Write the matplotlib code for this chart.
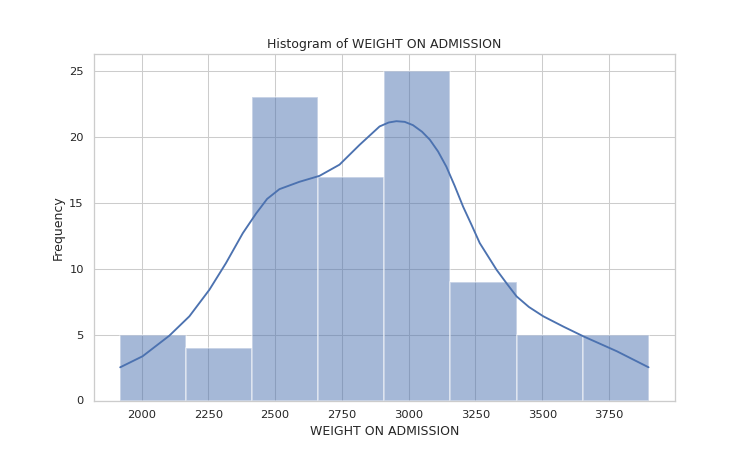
import numpy as np
import matplotlib
matplotlib.use('Agg')
import matplotlib.pyplot as plt
import seaborn as sns
sns.set_theme(style='whitegrid')
plt.rcParams['font.family'] = ['DejaVu Sans']

# histogram bins (edges) and counts
bin_edges = [1920, 2167, 2415, 2662, 2909, 3156, 3404, 3651, 3898]
counts = [5, 4, 23, 17, 25, 9, 5, 5]

# kde curve
kde_x = [1920, 2004, 2104, 2179, 2254, 2316, 2379, 2429, 2470, 2516, 2591,
         2666, 2741, 2816, 2891, 2925, 2954, 2985, 3016, 3050, 3079, 3110,
         3141, 3172, 3204, 3236, 3266, 3329, 3370, 3404, 3450, 3504, 3580,
         3654, 3779, 3898]
kde_y = [2.52, 3.36, 4.92, 6.39, 8.41, 10.43, 12.7, 14.2, 15.3, 16.04, 16.6,
         17.05, 17.9, 19.4, 20.8, 21.1, 21.2, 21.15, 20.9, 20.4, 19.8, 18.9,
         17.75, 16.3, 14.7, 13.3, 11.95, 9.92, 8.8, 7.9, 7.1, 6.39, 5.6,
         4.87, 3.74, 2.52]

blue = '#4c72b0'

fig = plt.figure(figsize=(10, 6), dpi=75)
ax = fig.add_subplot(111)
left = np.array(bin_edges[:-1])
widths = np.diff(bin_edges)
ax.bar(left, counts, width=widths, align='edge', color=blue, alpha=0.5,
       edgecolor='white', linewidth=1.5)
ax.plot(kde_x, kde_y, color=blue, linewidth=1.8)

ax.set_title('Histogram of WEIGHT ON ADMISSION')
ax.set_xlabel('WEIGHT ON ADMISSION')
ax.set_ylabel('Frequency')
ax.set_xticks([2000, 2250, 2500, 2750, 3000, 3250, 3500, 3750])
ax.set_yticks([0, 5, 10, 15, 20, 25])
ax.set_xlim(1821, 3997)
ax.set_ylim(0, 26.3)

fig.savefig('out.png', dpi=75)
